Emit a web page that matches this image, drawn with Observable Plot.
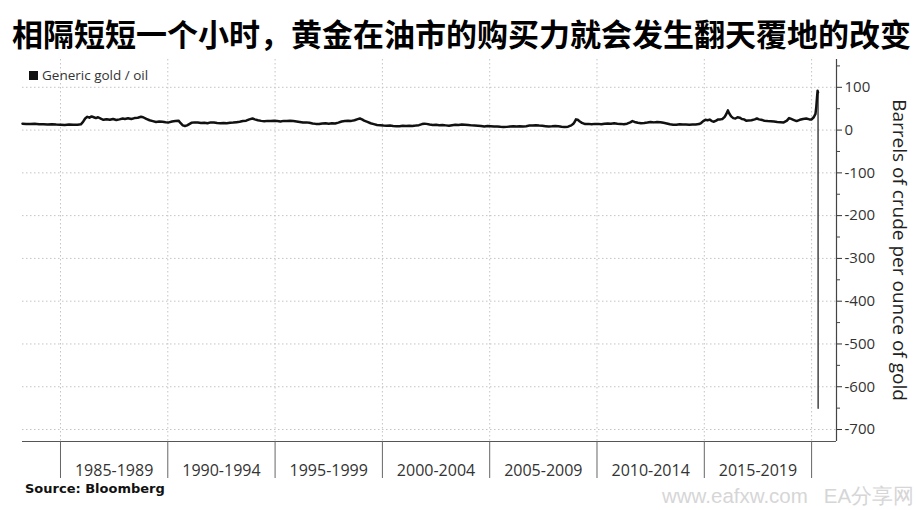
<!DOCTYPE html>
<html><head><meta charset="utf-8">
<script src="https://cdn.jsdelivr.net/npm/d3@7"></script>
<script src="https://cdn.jsdelivr.net/npm/@observablehq/plot@0.6"></script>
<style>
body{margin:0;background:#fff;}
#wrap{position:relative;width:922px;height:510px;overflow:hidden;font-family:"Open Sans",sans-serif;}
#wrap svg{position:absolute;left:0;top:0;}
#title{position:absolute;left:12px;top:16px;font-family:"Noto Sans CJK SC",sans-serif;font-weight:700;font-size:31px;line-height:34px;color:#000;white-space:nowrap;}
#legend{position:absolute;left:29px;top:66px;font-size:13.5px;line-height:19px;color:#333;white-space:nowrap;}
#legend span.sw{display:inline-block;width:9px;height:9px;background:#111;margin-right:4px;vertical-align:-0px;}
#ylabel{position:absolute;left:900px;top:250px;transform:translate(-50%,-50%) rotate(90deg);font-size:19px;color:#222;white-space:nowrap;}
#source{position:absolute;left:25px;top:481px;font-family:"DejaVu Sans",sans-serif;font-weight:700;font-size:13px;color:#111;white-space:nowrap;}
#wm{position:absolute;left:662px;top:482px;font-family:"Liberation Sans",sans-serif;font-size:20.5px;color:#d6d6d6;white-space:nowrap;}
</style></head><body>
<div id="wrap">
<div id="title"></div>
<div id="legend"><span class="sw"></span><span id="legtext"></span></div>
<div id="ylabel"></div>
<div id="source"></div>
<div id="wm"></div>
</div>
<script>
const titleText = "相隔短短一个小时，黄金在油市的购买力就会发生翻天覆地的改变";
const seriesName = "Generic gold / oil";
const yTitle = "Barrels of crude per ounce of gold";
const sourceText = "Source: Bloomberg";
const watermark = "www.eafxw.com\u2002 EA分享网";

const periodStarts = [1985, 1990, 1995, 2000, 2005, 2010, 2015, 2020];
const periodLabels = ["1985-1989", "1990-1994", "1995-1999", "2000-2004", "2005-2009", "2010-2014", "2015-2019"];
const yTicks = [100, 0, -100, -200, -300, -400, -500, -600, -700];
const yMinor = [150, 50, -50, -150, -250, -350, -450, -550, -650];

const years = [
1983.23,1983.4,1983.6,1983.8,1984.0,1984.2,1984.4,1984.6,1984.8,1985.0,1985.2,1985.4,1985.6,1985.8,1985.95,
1986.05,1986.15,1986.25,1986.35,1986.45,1986.55,1986.65,1986.75,1986.9,1987.0,1987.15,1987.3,1987.45,1987.6,1987.75,1987.9,
1988.0,1988.15,1988.3,1988.45,1988.6,1988.75,1988.85,1989.0,1989.15,1989.3,1989.45,1989.6,1989.75,1989.9,
1990.05,1990.2,1990.35,1990.5,1990.6,1990.7,1990.8,1990.9,1991.0,1991.1,1991.25,1991.4,1991.55,1991.7,1991.85,
1992.0,1992.15,1992.3,1992.45,1992.6,1992.75,1992.9,1993.05,1993.2,1993.35,1993.5,1993.65,1993.8,1993.95,
1994.05,1994.2,1994.35,1994.5,1994.65,1994.8,1994.95,1995.1,1995.25,1995.4,1995.55,1995.7,1995.85,
1996.0,1996.15,1996.3,1996.45,1996.6,1996.75,1996.9,1997.05,1997.2,1997.35,1997.5,1997.65,1997.8,1997.95,
1998.1,1998.25,1998.4,1998.55,1998.7,1998.85,1998.95,1999.05,1999.15,1999.3,1999.45,1999.6,1999.75,1999.9,
2000.05,2000.2,2000.35,2000.5,2000.65,2000.8,2000.95,2001.1,2001.25,2001.4,2001.55,2001.7,2001.85,2001.95,
2002.05,2002.2,2002.35,2002.5,2002.65,2002.8,2002.95,2003.1,2003.25,2003.4,2003.55,2003.7,2003.85,
2004.0,2004.15,2004.3,2004.45,2004.6,2004.75,2004.9,2005.05,2005.2,2005.35,2005.5,2005.65,2005.8,2005.95,
2006.1,2006.25,2006.4,2006.55,2006.7,2006.85,2007.0,2007.15,2007.3,2007.45,2007.6,2007.75,2007.9,
2008.05,2008.2,2008.35,2008.5,2008.65,2008.8,2008.9,2008.97,2009.02,2009.1,2009.2,2009.3,2009.45,2009.6,2009.75,2009.9,
2010.05,2010.2,2010.35,2010.5,2010.65,2010.8,2010.95,2011.1,2011.25,2011.4,2011.55,2011.65,2011.75,2011.9,
2012.05,2012.2,2012.35,2012.5,2012.65,2012.8,2012.95,2013.1,2013.25,2013.4,2013.55,2013.7,2013.85,
2014.0,2014.15,2014.3,2014.45,2014.6,2014.75,2014.85,2014.95,2015.05,2015.15,2015.25,2015.35,2015.45,2015.55,2015.65,2015.75,2015.85,2015.95,
2016.02,2016.1,2016.15,2016.25,2016.35,2016.45,2016.55,2016.65,2016.75,2016.85,2016.95,
2017.05,2017.2,2017.35,2017.45,2017.55,2017.65,2017.8,2017.95,
2018.1,2018.25,2018.4,2018.55,2018.7,2018.85,2018.95,2019.05,2019.15,2019.3,2019.45,2019.6,2019.75,2019.9,
2020.0,2020.1,2020.18,2020.22,2020.25,2020.28,2020.3,2020.305
];
const ratio = [
15,14.5,14,14.6,13.8,13.5,13,13.6,12.8,12.5,12,12.8,12.3,12.6,13.5,
19,27,31,29,32,30,28,30,26,24,25.5,24,26,23.5,25,27,
26,27.5,26,28,29,31,30,26,23,21,19,20,19.5,18.5,
18,20,21,22,16,11,9.5,11,14,17,18,17.5,16.5,17,16,
18,17.5,16.5,16,16.5,16,17,17.5,18.5,19.5,21,22,25,27,
25,23,21.5,20.5,21.5,21,22,21,20,21.5,21,22,21,
20,19,17.5,18,17,15.5,14.5,14,15.5,16,15,16,15.5,17.5,
20,21,22,21.5,23,25.5,27,25,22,19,16,14,12,11.5,
10.5,10,10.5,9.5,9,8.8,10,9.5,10,9.8,10.5,11.5,14,15,
14.5,13,12,12.5,11.5,12,11,10,11.5,12.5,12,13,12.5,
12,11,10.5,10,9.5,8.5,9.5,9,8.2,8.5,7.6,7,7.5,8.5,
9,8.6,8.8,8.5,9.2,10.5,11,11.2,10.5,10,9.2,8.5,8.8,
9.5,9,7.8,7,8,11,15,20,25,24,20,17,14,14.5,13.5,14.5,
14.5,13.5,15,15.5,15,16,15,14.5,13.5,15,18,21,19,17,
16,16.5,17.5,19,18,19,18.5,17,15.5,13.5,12.5,12.5,13.5,
13,13,12.5,12.8,13,14,16.5,21,24,23,24.5,21,19.5,22,25,25,26,31,
37,46,40,32,28,27,30,29,26,25,22,
22.5,23,25,27,25,24,22,21,
20.5,20,19,18.5,18,22,28,26,24,21,24,26,27,25,
25,30,38,55,75,92,88,-650
];
const data = years.map((t, i) => ({t, v: ratio[i]}));
const mainPart = data.slice(0, -1);
const dropPart = data.slice(-2);

document.getElementById("title").textContent = titleText;
document.getElementById("legtext").textContent = seriesName;
document.getElementById("ylabel").textContent = yTitle;
document.getElementById("source").textContent = sourceText;
document.getElementById("wm").textContent = watermark;

const xDomain = [1983.23, 2021.16];
const yDomain = [-728, 165];
const mids = periodLabels.map((_, i) => (periodStarts[i] + periodStarts[i + 1]) / 2);

const chart = Plot.plot({
  width: 922,
  height: 510,
  marginLeft: 22,
  marginRight: 86,
  marginTop: 59,
  marginBottom: 69,
  style: {fontFamily: "Open Sans, sans-serif", fontSize: "15px", color: "#333", background: "transparent"},
  x: {type: "linear", domain: xDomain, axis: null},
  y: {domain: yDomain, axis: null},
  marks: [
    Plot.ruleY(yTicks, {stroke: "#c4c4c4", strokeDasharray: "1.5,2.5"}),
    Plot.ruleX(periodStarts, {stroke: "#c4c4c4", strokeDasharray: "1.5,2.5"}),
    Plot.line(dropPart, {x: "t", y: "v", stroke: "#444", strokeWidth: 1.5}),
    Plot.line(mainPart, {x: "t", y: "v", stroke: "#111", strokeWidth: 2.5, strokeLinejoin: "round"}),
    Plot.ruleY([yDomain[0]], {stroke: "#555", strokeWidth: 1.2}),
    Plot.ruleX([xDomain[1]], {stroke: "#444", strokeWidth: 1.2}),
    Plot.axisY({anchor: "right", ticks: yTicks, tickSize: 5, tickPadding: 3, fontSize: 15, color: "#333", label: null, tickFormat: d => String(d)}),
    Plot.axisY({anchor: "right", ticks: yMinor, tickSize: 3, color: "#444", label: null, tickFormat: () => ""}),
    Plot.axisX({ticks: periodStarts, tickSize: 37, color: "#666", label: null, tickFormat: () => ""}),
    Plot.axisX({ticks: mids, tickSize: 0, tickPadding: 23, fontSize: 16, color: "#333", label: null, tickFormat: d => periodLabels[mids.indexOf(d)]})
  ]
});
document.getElementById("wrap").prepend(chart);
</script>
</body></html>
